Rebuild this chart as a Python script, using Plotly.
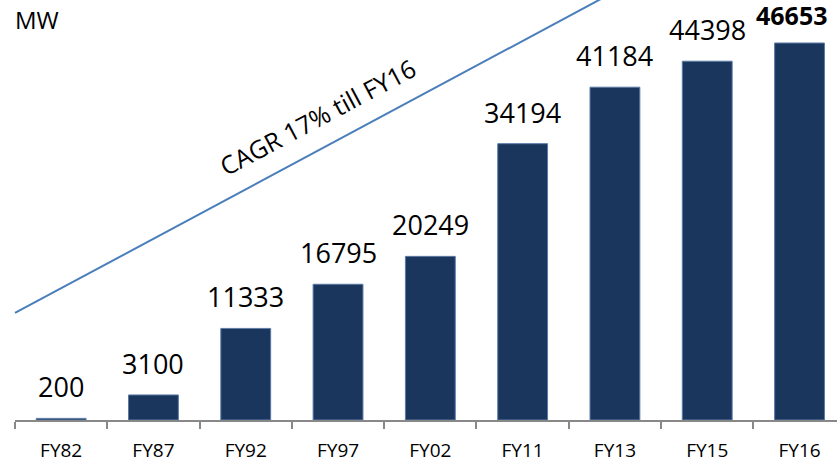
import plotly.graph_objects as go

categories = ["FY82", "FY87", "FY92", "FY97", "FY02", "FY11", "FY13", "FY15", "FY16"]
capacity_mw = [200, 3100, 11333, 16795, 20249, 34194, 41184, 44398, 46653]
value_labels = [str(v) for v in capacity_mw]
value_labels[-1] = "<b>" + value_labels[-1] + "</b>"

unit_label = "MW"
trend_label = "CAGR 17% till FY16"

FONT = "Open Sans"

fig = go.Figure()
fig.add_trace(go.Bar(
    x=categories,
    y=capacity_mw,
    width=0.54,
    marker=dict(color="#1B365D", line=dict(color="#5A7AA6", width=1)),
    hoverinfo="skip",
    cliponaxis=False,
))

n = len(categories)
for i, (cat, val, lab) in enumerate(zip(categories, capacity_mw, value_labels)):
    last = i == n - 1
    fig.add_annotation(
        x=cat, y=val, text=lab, showarrow=False,
        xanchor="center", yanchor="bottom",
        yshift=9 if last else 11,
        xshift=-8 if last else 0,
        font=dict(family=FONT, size=25 if last else 27, color="#000000"),
    )

# unit label
fig.add_annotation(
    xref="paper", yref="paper", x=0.0, y=1.0, text=unit_label,
    showarrow=False, xanchor="left", yanchor="top", xshift=-2, yshift=-1,
    font=dict(family=FONT, size=24, color="#000000"),
)

# trend line (decorative arrow, head runs off the top)
fig.add_shape(
    type="line", xref="paper", yref="paper",
    x0=0.0, y0=0.2548, x1=0.7445, y1=1.0357,
    line=dict(color="#4A7EBB", width=2),
)

fig.add_annotation(
    xref="paper", yref="paper", x=0.3674, y=0.7214, text=trend_label,
    showarrow=False, textangle=-28, xanchor="center", yanchor="middle",
    font=dict(family=FONT, size=25, color="#000000"),
)

fig.update_layout(
    width=837, height=466,
    margin=dict(l=15, r=0, t=0, b=46, autoexpand=False),
    plot_bgcolor="white", paper_bgcolor="white",
    showlegend=False,
    xaxis=dict(
        type="category",
        range=[-0.5, 8.406],
        automargin=False,
        showline=True, linecolor="#888888", linewidth=1.5,
        ticks="outside", ticklen=7, tickwidth=1.5, tickcolor="#888888",
        tickson="boundaries",
        ticklabelstandoff=12,
        showgrid=False, zeroline=False,
        tickfont=dict(family=FONT, size=19, color="#000000"),
    ),
    yaxis=dict(
        range=[0, 51975],
        automargin=False,
        visible=False, showgrid=False, zeroline=False,
    ),
)

fig.write_html(
    "out.html",
    config={"displayModeBar": False},
    post_script="document.body.style.margin='0';document.body.style.overflow='hidden';",
)
